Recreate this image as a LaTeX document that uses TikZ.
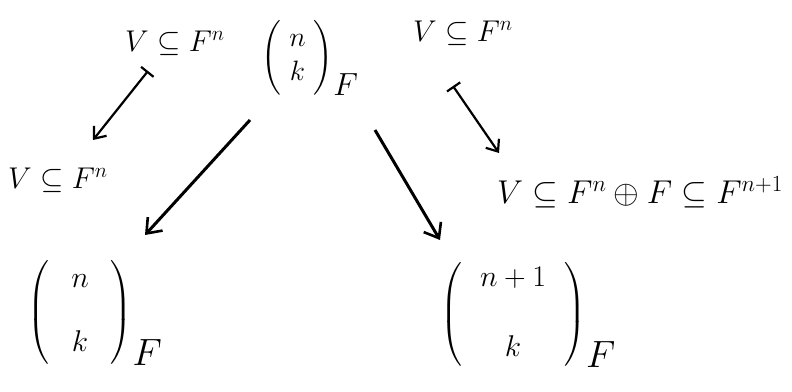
\documentclass[tikz,border=0pt]{standalone}
\usepackage{fix-cm}
\usepackage{amsmath}
\usetikzlibrary{arrows.meta,calc}
\begin{document}
\begin{tikzpicture}[x=1pt,y=-1pt,
  lbl/.style={inner sep=0pt, font=\fontsize{30}{34}\selectfont},
  bin/.style={inner sep=0pt},
  bigarrow/.style={line width=3pt, -{Straight Barb[length=13pt,width=20pt,line width=2.6pt]}},
  smallarrow/.style={line width=2.2pt, {Bar[width=16pt,line width=2.2pt]}-{Straight Barb[length=10pt,width=16pt,line width=2.2pt]}}]
\useasboundingbox (0,0) rectangle (792,391);
% nodes
\node[bin] (top) at (310,58) {\fontsize{28}{32}\selectfont
  $\left(\hskip8pt\begin{matrix} n\\[2pt] k\end{matrix}\hskip8pt\right)_{\mbox{\fontsize{32}{36}\selectfont$F$}}$};
\node[lbl] (tl) at (175,43) {$V\subseteq F^n$};
\node[lbl] (tr) at (463,33) {$V\subseteq F^n$};
\node[lbl] (ml) at (58,180) {$V\subseteq F^n$};
\node[lbl, font=\fontsize{33}{36}\selectfont] (mr) at (640,192) {$V\subseteq F^n\oplus F\subseteq F^{n+1}$};
\node[bin] (bl) at (95,313) {\fontsize{30}{34}\selectfont
  $\left(\hskip22pt\begin{matrix} n\\[30pt] k\end{matrix}\hskip22pt\right)_{\mbox{\fontsize{38}{40}\selectfont$F$}}$};
\node[bin] (br) at (528,315) {\fontsize{30}{34}\selectfont
  $\left(\hskip18pt\begin{matrix} n+1\\[36pt] k\end{matrix}\hskip18pt\right)_{\mbox{\fontsize{38}{40}\selectfont$F$}}$};
% arrows
\draw[smallarrow] ($(tl)+(-27,28)$) -- ($(ml)+(35,-40)$);
\draw[bigarrow] ($(top)+(-60,62)$) -- ($(bl)+(50,-78)$);
\draw[bigarrow] ($(top)+(65,72)$) -- ($(br)+(-88,-75)$);
\draw[smallarrow] ($(tr)+(-10,53)$) -- ($(mr)+(-141,-39)$);
\end{tikzpicture}
\end{document}
